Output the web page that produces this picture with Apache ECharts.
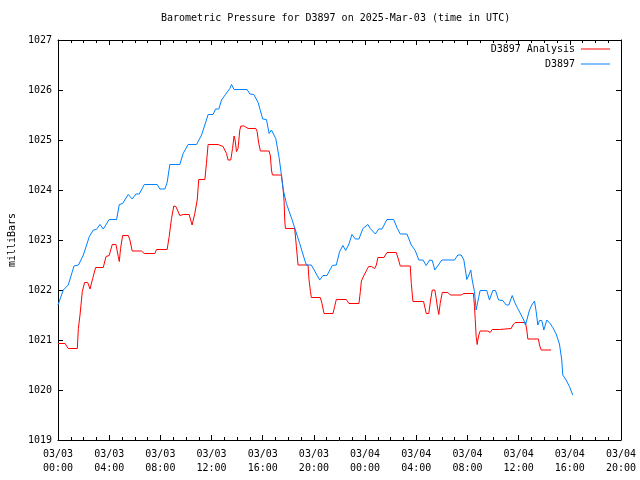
<!DOCTYPE html>
<html>
<head>
<meta charset="utf-8">
<script src="https://cdn.jsdelivr.net/npm/echarts@6/dist/echarts.min.js"></script>
<style>html,body{margin:0;padding:0;background:#fff;}#c{width:640px;height:480px;}</style>
</head>
<body>
<div id="c"></div>
<script>
// Tick labels (x axis every 4 hours from 03/03 00:00 UTC)
const dateLabels = ['03/03','03/03','03/03','03/03','03/03','03/03','03/04','03/04','03/04','03/04','03/04','03/04'];
const timeLabels = ['00:00','04:00','08:00','12:00','16:00','20:00','00:00','04:00','08:00','12:00','16:00','20:00'];
const seriesNames = ['D3897 Analysis', 'D3897'];

// D3897 Analysis (hours since 03/03 00:00, mbar)
const analysisHours = [0,0.55,0.80,1.51,1.59,1.72,1.90,2.08,2.32,2.50,2.71,2.94,3.54,3.75,4.00,4.24,4.53,4.71,4.79,4.89,5.05,5.49,5.62,5.80,6.53,6.74,7.57,7.70,8.53,8.69,8.87,9.05,9.21,9.52,9.78,10.25,10.48,10.69,10.88,11.00,11.48,11.60,11.73,12.51,12.65,12.90,13.17,13.29,13.50,13.64,13.76,13.84,13.95,14.07,14.21,14.29,14.54,14.86,15.46,15.56,15.69,15.82,16.50,16.60,16.68,16.76,17.46,17.59,17.67,17.72,17.77,18.50,18.63,18.76,19.54,19.62,19.73,19.80,20.50,20.63,20.79,21.49,21.62,21.75,22.53,22.74,23.52,23.63,23.71,23.89,24.15,24.28,24.49,24.75,24.88,25.00,25.47,25.71,26.44,26.62,26.75,27.53,27.61,27.74,28.57,28.78,28.98,29.12,29.25,29.45,29.56,29.64,29.76,29.87,30.03,30.47,30.66,31.51,31.72,32.47,32.55,32.61,32.68,32.76,32.81,32.89,32.99,33.59,33.78,33.93,34.50,34.64,35.42,35.55,35.73,36.53,36.64,36.72,37.55,37.63,37.76,38.54];
const analysisValues = [1020.93,1020.93,1020.83,1020.83,1021.23,1021.50,1021.97,1022.15,1022.15,1022.02,1022.23,1022.45,1022.45,1022.67,1022.69,1022.91,1022.91,1022.67,1022.57,1022.83,1023.09,1023.09,1023.00,1022.78,1022.78,1022.73,1022.73,1022.81,1022.81,1023.07,1023.43,1023.68,1023.67,1023.49,1023.51,1023.51,1023.30,1023.53,1023.80,1024.21,1024.21,1024.53,1024.91,1024.91,1024.88,1024.87,1024.73,1024.60,1024.60,1024.83,1025.08,1025.00,1024.77,1024.83,1025.20,1025.28,1025.28,1025.23,1025.23,1025.17,1024.93,1024.78,1024.78,1024.68,1024.40,1024.30,1024.30,1024.03,1023.77,1023.40,1023.23,1023.23,1022.87,1022.50,1022.50,1022.20,1021.97,1021.85,1021.85,1021.73,1021.53,1021.53,1021.67,1021.81,1021.81,1021.73,1021.73,1021.97,1022.18,1022.28,1022.41,1022.47,1022.47,1022.43,1022.50,1022.65,1022.65,1022.75,1022.75,1022.60,1022.48,1022.48,1022.13,1021.77,1021.77,1021.53,1021.53,1021.80,1022.00,1022.00,1021.83,1021.68,1021.51,1021.73,1021.95,1021.95,1021.90,1021.90,1021.93,1021.93,1021.67,1021.41,1021.07,1020.91,1021.00,1021.10,1021.18,1021.18,1021.15,1021.21,1021.21,1021.23,1021.23,1021.30,1021.35,1021.35,1021.20,1021.02,1021.02,1020.90,1020.80,1020.80];

// D3897 observed (hours since 03/03 00:00, mbar)
const obsHours = [0,0.41,0.80,1.25,1.60,1.98,2.45,2.76,3.00,3.28,3.54,4.00,4.58,4.79,5.05,5.49,5.80,6.09,6.35,6.74,7.75,7.96,8.35,8.53,8.74,9.52,9.78,10.17,10.83,11.22,11.60,11.73,12.12,12.31,12.57,12.78,13.09,13.43,13.56,13.76,14.78,14.99,15.30,15.64,15.77,16.00,16.29,16.50,16.68,17.02,17.28,17.46,17.59,17.85,18.30,18.89,19.28,19.41,19.80,20.45,20.71,21.02,21.44,21.75,22.01,22.27,22.48,22.74,22.97,23.24,23.52,23.83,24.22,24.41,24.80,25.06,25.32,25.71,26.23,26.52,26.75,27.27,27.61,27.92,28.20,28.52,28.78,29.04,29.25,29.45,30.00,30.99,31.25,31.51,31.72,31.95,32.11,32.26,32.37,32.55,32.68,32.89,32.99,33.51,33.72,33.98,34.19,34.43,34.76,35.03,35.23,35.50,35.70,35.93,36.20,36.40,36.53,36.64,36.85,37.03,37.24,37.37,37.50,37.63,37.81,37.97,38.20,38.46,38.67,38.93,39.19,39.37,39.45,39.71,39.97,40.23];
const obsValues = [1021.70,1022.00,1022.10,1022.48,1022.50,1022.70,1023.07,1023.20,1023.21,1023.31,1023.22,1023.41,1023.41,1023.71,1023.73,1023.91,1023.82,1023.92,1023.92,1024.11,1024.11,1024.02,1024.02,1024.15,1024.51,1024.51,1024.73,1024.91,1024.91,1025.10,1025.40,1025.51,1025.51,1025.62,1025.62,1025.80,1025.91,1026.03,1026.11,1026.01,1026.01,1025.92,1025.91,1025.75,1025.63,1025.42,1025.41,1025.13,1025.20,1025.03,1024.65,1024.30,1024.02,1023.73,1023.40,1022.93,1022.60,1022.50,1022.50,1022.20,1022.29,1022.29,1022.49,1022.50,1022.77,1022.89,1022.79,1022.92,1023.11,1023.02,1023.02,1023.23,1023.31,1023.23,1023.12,1023.22,1023.22,1023.41,1023.41,1023.23,1023.12,1023.12,1022.90,1022.79,1022.60,1022.60,1022.49,1022.60,1022.59,1022.40,1022.60,1022.60,1022.70,1022.70,1022.60,1022.21,1022.30,1022.40,1022.20,1021.97,1021.60,1021.87,1021.99,1021.99,1021.80,1021.99,1021.99,1021.80,1021.79,1021.70,1021.70,1021.89,1021.75,1021.63,1021.50,1021.40,1021.30,1021.40,1021.60,1021.70,1021.78,1021.57,1021.30,1021.39,1021.39,1021.20,1021.40,1021.33,1021.25,1021.12,1020.92,1020.60,1020.30,1020.20,1020.07,1019.90];

const FONT = '"DejaVu Sans Mono", "Liberation Mono", monospace';
const pair = (xs, ys) => xs.map((x, i) => [x, ys[i]]);

const chart = echarts.init(document.getElementById('c'), null, {renderer: 'canvas'});

const xCommon = {
  type: 'value', min: 0, max: 44, interval: 4,
  axisLine: {show: true, onZero: false, lineStyle: {color: '#000', width: 1}},
  axisTick: {show: true, inside: true, length: 5, lineStyle: {color: '#000'}},
  minorTick: {show: true, splitNumber: 4, length: 3, lineStyle: {color: '#000'}},
  splitLine: {show: false}, minorSplitLine: {show: false}
};
const yCommon = {
  type: 'value', min: 1019, max: 1027, interval: 1,
  axisLine: {show: true, onZero: false, lineStyle: {color: '#000', width: 1}},
  axisTick: {show: true, inside: true, length: 5, lineStyle: {color: '#000'}},
  splitLine: {show: false}
};

chart.setOption({
  animation: false,
  backgroundColor: '#fff',
  title: {
    text: 'Barometric Pressure for D3897 on 2025-Mar-03 (time in UTC)',
    left: 161, top: 13, padding: 0,
    textStyle: {fontFamily: FONT, fontSize: 10, fontWeight: 'normal', color: '#000'}
  },
  legend: {
    data: seriesNames,
    orient: 'vertical', align: 'right',
    right: 30, top: 43, padding: 0,
    itemGap: 3, itemWidth: 29, itemHeight: 1,
    icon: 'rect',
    textStyle: {fontFamily: FONT, fontSize: 10, color: '#000', lineHeight: 12, padding: [0, 1, 0, 0]}
  },
  grid: {left: 58, right: 19, top: 40, bottom: 40, containLabel: false, outerBoundsMode: 'none'},
  xAxis: [
    Object.assign({}, xCommon, {
      position: 'bottom',
      axisLabel: {
        show: true, margin: 7, color: '#000', fontFamily: FONT, fontSize: 10, lineHeight: 14,
        formatter: v => { const i = Math.round(v / 4); return dateLabels[i] + '\n' + timeLabels[i]; }
      }
    }),
    Object.assign({}, xCommon, {position: 'top', axisLabel: {show: false}})
  ],
  yAxis: [
    Object.assign({}, yCommon, {
      position: 'left',
      name: 'milliBars', nameLocation: 'middle', nameGap: 40, nameRotate: 90,
      nameTextStyle: {fontFamily: FONT, fontSize: 10, color: '#000'},
      axisLabel: {show: true, margin: 6, color: '#000', fontFamily: FONT, fontSize: 10, formatter: v => String(v)}
    }),
    Object.assign({}, yCommon, {position: 'right', axisLabel: {show: false}})
  ],
  series: [
    {
      name: seriesNames[0], type: 'line', xAxisIndex: 0, yAxisIndex: 0,
      data: pair(analysisHours, analysisValues),
      showSymbol: false, symbol: 'none', color: '#ff0000',
      lineStyle: {color: '#ff0000', width: 1}
    },
    {
      name: seriesNames[1], type: 'line', xAxisIndex: 0, yAxisIndex: 0,
      data: pair(obsHours, obsValues),
      showSymbol: false, symbol: 'none', color: '#0080ff',
      lineStyle: {color: '#0080ff', width: 1}
    }
  ]
});
</script>
</body>
</html>
